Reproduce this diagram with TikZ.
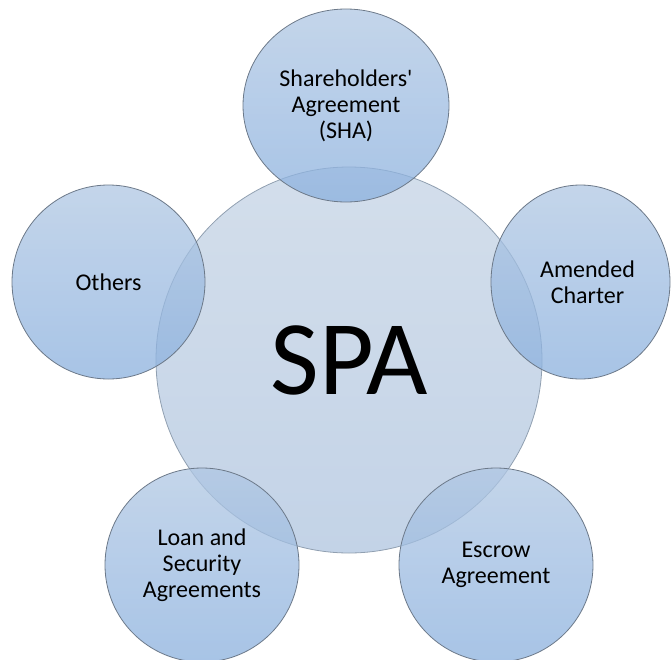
\documentclass[tikz,border=0pt]{standalone}
\usepackage{fontspec}
\setmainfont{Carlito}
\usepackage{tikz}
\usetikzlibrary{shapes.geometric, positioning}
\definecolor{hubtop}{RGB}{211,222,235}
\definecolor{hubbottom}{RGB}{195,211,231}
\definecolor{hubline}{RGB}{145,160,177}
\definecolor{sattop}{RGB}{176,199,227}
\definecolor{satbottom}{RGB}{138,176,222}
\definecolor{satline}{RGB}{108,121,137}
\tikzstyle{hub} = [circle, draw=hubline, line width=0.8pt, top color=hubtop, bottom color=hubbottom, minimum size=386pt, inner sep=0pt, font=\fontsize{106}{116}\selectfont]
\tikzstyle{satellite} = [ellipse, draw=satline, line width=0.8pt, top color=sattop, bottom color=satbottom, fill opacity=0.75, text opacity=1, draw opacity=1, inner sep=0pt, align=center, font=\fontsize{24}{26}\selectfont]

\begin{document}
\begin{tikzpicture}[x=1pt, y=-1pt]
		\useasboundingbox (0,0) rectangle (672,659);
		\node (SPA) [hub] at (349,360) {SPA};
		% the five documents around the purchase agreement
		\node (Shareholders) [satellite, minimum width=206pt, minimum height=193pt] at (346,105.5) {Shareholders\textquotesingle\\Agreement\\(SHA)};
		\node (Charter) [satellite, minimum width=179pt, minimum height=194pt] at (580.5,282) {\hspace*{14pt}Amended\\\hspace*{14pt}Charter};
		\node (Escrow) [satellite, minimum width=194pt, minimum height=194pt] at (496,565) {Escrow\\Agreement};
		\node (Loan) [satellite, minimum width=194pt, minimum height=194pt] at (202,565) {Loan and\\Security\\Agreements};
		\node (Others) [satellite, minimum width=193pt, minimum height=194pt] at (108.5,282) {Others};
\end{tikzpicture}
\end{document}
